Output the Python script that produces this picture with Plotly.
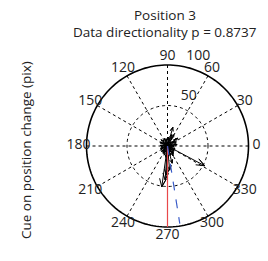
import numpy as np
import plotly.graph_objects as go

# Data: compass vectors (angle in degrees, length in pix)
small_angles = [5, 18, 35, 48, 62, 77, 88, 101, 115, 128, 140, 155, 168, 180, 192,
                205, 218, 230, 243, 255, 268, 280, 293, 305, 318, 330, 345, 355,
                12, 40, 70, 95, 150, 200, 250, 300, 320, 60,
                25, 110, 135, 175, 222, 262, 275, 287, 310, 340, 8, 82, 198, 236]
small_radii = [8, 6, 10, 7, 12, 9, 5, 8, 6, 9, 7, 10, 6, 8, 7,
               9, 6, 8, 10, 7, 11, 9, 8, 12, 7, 9, 6, 8,
               11, 13, 15, 9, 8, 7, 12, 14, 10, 16,
               12, 10, 11, 9, 10, 14, 13, 12, 11, 10, 12, 11, 9, 10]
large_angles = [332, 262, 266, 74, 37, 275, 285, 268]
large_radii = [52, 51, 42, 24, 16, 30, 22, 36]

mean_angle_red = 270
mean_r_red = 100
mean_angle_blue = 279
mean_r_blue = 97

angle_ticks = list(range(0, 360, 30))
radial_ticks = [50, 100]
title_1 = "Position 3"
title_2 = "Data directionality p = 0.8737"
ylabel = "Cue on position change (pix)"

angles = small_angles + large_angles
radii = small_radii + large_radii

# MATLAB compass-style arrows: 0 -> tip -> head -> tip -> head
head_r = np.sqrt(0.8**2 + 0.08**2)
head_a = np.degrees(np.arctan2(0.08, 0.8))
rs, ts = [], []
for a, r in zip(angles, radii):
    rs += [0, r, head_r * r, r, head_r * r, None]
    ts += [a, a, a + head_a, a, a - head_a, None]

rmax = max(radial_ticks)
view_max = 1.2 * rmax
fig = go.Figure()

# spokes (dotted) from centre to rmax at each angular tick
sp_r, sp_t = [], []
for a in angle_ticks:
    sp_r += [0, rmax, None]
    sp_t += [a, a, None]
fig.add_trace(go.Scatterpolar(r=sp_r, theta=sp_t, mode="lines",
                              line=dict(color="black", width=1, dash="dot"),
                              showlegend=False, hoverinfo="skip"))
# inner dotted ring(s)
ring_theta = list(range(0, 361, 2))
for t in radial_ticks[:-1]:
    fig.add_trace(go.Scatterpolar(r=[t] * len(ring_theta), theta=ring_theta, mode="lines",
                                  line=dict(color="black", width=1, dash="dot"),
                                  showlegend=False, hoverinfo="skip"))
# outer solid ring
fig.add_trace(go.Scatterpolar(r=[rmax] * len(ring_theta), theta=ring_theta, mode="lines",
                              line=dict(color="black", width=1.6),
                              showlegend=False, hoverinfo="skip"))

fig.add_trace(go.Scatterpolar(r=rs, theta=ts, mode="lines",
                              line=dict(color="black", width=1), showlegend=False))
fig.add_trace(go.Scatterpolar(r=[0, mean_r_red], theta=[mean_angle_red, mean_angle_red],
                              mode="lines", line=dict(color="#e8484a", width=1.2),
                              showlegend=False))
fig.add_trace(go.Scatterpolar(r=[0, mean_r_blue], theta=[mean_angle_blue, mean_angle_blue],
                              mode="lines", line=dict(color="#3a5cc8", width=1.2, dash="dash"),
                              showlegend=False))
# angular tick labels, MATLAB style: centred at 1.1 * rmax
fig.add_trace(go.Scatterpolar(r=[1.1 * rmax] * len(angle_ticks), theta=angle_ticks,
                              mode="text", text=[str(t) for t in angle_ticks],
                              textposition="middle center", cliponaxis=False,
                              textfont=dict(size=14, color="#222"), showlegend=False,
                              hoverinfo="skip"))
# radial tick labels, MATLAB style: at 82 degrees, bottom-left aligned
fig.add_trace(go.Scatterpolar(r=[t + rmax / 2 / 20 for t in radial_ticks],
                              theta=[82] * len(radial_ticks),
                              mode="text", text=["  " + str(t) for t in radial_ticks],
                              textposition="top right", cliponaxis=False,
                              textfont=dict(size=14, color="#222"), showlegend=False,
                              hoverinfo="skip"))

W, H = 268, 261
cx, cy, R = 167.5, 146, 81 * view_max / rmax
fig.update_layout(
    width=W, height=H,
    margin=dict(l=0, r=0, t=0, b=0),
    paper_bgcolor="white",
    font=dict(family="Open Sans", size=14, color="#222"),
    polar=dict(
        domain=dict(x=[(cx - R) / W, (cx + R) / W], y=[(H - cy - R) / H, (H - cy + R) / H]),
        bgcolor="rgba(0,0,0,0)",
        angularaxis=dict(rotation=0, direction="counterclockwise",
                         showticklabels=False, ticks="", showline=False, showgrid=False),
        radialaxis=dict(range=[0, view_max], showticklabels=False, showline=False,
                        ticks="", showgrid=False),
    ),
    annotations=[
        dict(text=title_1, x=165 / W, y=1 - 15 / H, xref="paper", yref="paper",
             showarrow=False, font=dict(size=13.5), xanchor="center", yanchor="middle"),
        dict(text=title_2, x=165 / W, y=1 - 32 / H, xref="paper", yref="paper",
             showarrow=False, font=dict(size=13.5), xanchor="center", yanchor="middle"),
        dict(text=ylabel, x=26 / W, y=1 - 150 / H, xref="paper", yref="paper",
             showarrow=False, textangle=-90, font=dict(size=13.5),
             xanchor="center", yanchor="middle"),
    ],
)
fig.write_html("out.html", config={"displayModeBar": False},
               post_script="document.body.style.margin='0px';")
